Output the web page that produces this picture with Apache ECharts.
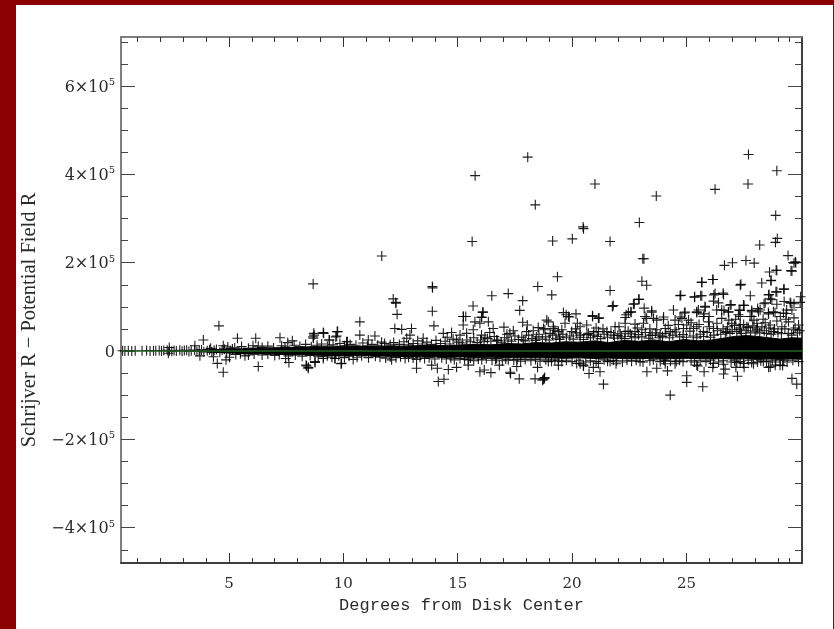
<!DOCTYPE html>
<html><head><meta charset="utf-8">
<style>
html,body{margin:0;padding:0;background:#8b0000;width:834px;height:629px;overflow:hidden}
#paper{position:absolute;left:16px;top:5px;width:817px;height:624px;background:#fff}
#chart{position:absolute;left:0;top:0;width:834px;height:629px}
</style>
<script src="https://cdn.jsdelivr.net/npm/echarts@6/dist/echarts.min.js"></script>
</head><body><div id="paper"></div><div id="chart"></div>
<script>
const xRange = [0.28, 30.05];
const yRange = [-480000, 711000];
const xMajorTicks = [5, 10, 15, 20, 25];
const xMinorTicks = [1,2,3,4,6,7,8,9,11,12,13,14,16,17,18,19,21,22,23,24,26,27,28,29,29.5];
const yMajorTicks = [-400000,-200000,0,200000,400000,600000];
const yMinorTicks = [-450000,-350000,-300000,-250000,-150000,-100000,-50000,50000,100000,150000,250000,300000,350000,450000,500000,550000,650000,700000];
const xTitle = 'Degrees from Disk Center';
const yTitle = 'Schrijver R \u2212 Potential Field R';
const zeroLine = [[0.28,0],[30.05,0]];

// Solid black core of the cloud, read as upper and lower edges at each degree mark
const coreX = [3.6,4.2,5,5.6,6.2,6.9,7.5,8.1,8.8,9.4,10,10.7,11.3,12,12.7,13.4,14,14.6,15.2,15.9,16.5,17.1,17.8,18.4,19.1,19.7,20.3,21,21.6,22.3,22.9,23.6,24.2,24.9,25.5,26.1,26.6,27.1,27.6,28.1,28.6,29.1,29.6,30.05];
const coreUpper = [1000,2500,4500,5000,7000,6500,8500,8000,10000,9000,11000,10500,10000,11500,11000,12500,13000,12000,14000,15000,14000,17000,16000,19000,18000,21000,20000,23000,19000,24000,22000,25000,21000,26000,23000,25000,29000,33000,35000,33000,30000,27000,30000,29000];
const coreLower = [-1000,-2500,-4500,-5500,-6000,-7000,-8000,-8500,-9500,-10000,-10500,-9500,-11500,-11500,-12500,-12000,-13000,-14000,-13500,-14500,-14000,-15000,-15500,-15500,-16000,-16500,-15500,-17000,-16000,-17000,-17500,-16500,-17500,-16500,-17000,-18000,-17000,-18500,-17500,-19000,-18000,-18500,-18000,-18500];

const nearZeroPoints = [[0.35,500],[0.45,300],[0.6,800],[0.75,200],[0.9,600],[1.2,400],[1.4,1000],[1.55,300],[1.7,700],[1.8,500],[1.95,1200],[2.05,200],[2.15,900],[2.3,1500],[2.4,400],[2.5,-800],[2.6,1100],[2.7,300],[2.85,1700],[2.95,-600],[3.05,900],[3.15,1500],[3.25,-1000],[3.35,700],[3.5,2100],[3.6,-1200],[3.7,1300],[3.8,2500],[3.9,-1700],[4.05,800],[4.15,2800],[4.25,-2300],[4.35,1600],[4.45,3500],[4.6,-2600],[4.7,2200],[4.8,4200],[4.9,-3100],[5.05,1400],[5.15,4500]];

const upperPoints = [[18.06,439000],[15.76,397000],[18.39,331000],[15.63,248000],[19.15,249000],[20.01,254000],[11.68,215000],[19.36,168000],[13.89,146000],[13.9,143000],[18.5,146000],[16.49,125000],[17.21,130000],[19.11,127000],[17.84,114000],[12.18,118000],[12.29,110000],[12.35,83000],[13.89,90000],[15.67,102000],[16.11,88000],[17.71,92000],[15.25,78000],[15.35,78000],[16.05,77000],[19.62,87000],[19.74,82000],[20.17,84000],[19.88,77000],
[27.71,445000],[28.95,408000],[21.0,378000],[27.69,378000],[26.25,366000],[23.68,351000],[28.9,307000],[20.48,281000],[20.5,277000],[22.94,291000],[21.66,248000],[28.97,255000],[28.89,246000],[28.2,240000],[29.44,216000],[29.76,202000],[29.7,199000],[27.6,205000],[27.96,199000],[27.01,200000],[26.66,194000],[23.09,209000],[23.14,209000],[28.63,179000],[28.95,183000],[29.57,182000],[28.7,160000],[28.29,154000],[27.38,151000],[26.16,162000],[25.67,156000],[23.05,158000],[23.26,149000],[21.66,137000],[29.25,140000],[28.95,134000],[28.61,128000],[28.67,118000],[27.79,125000],[26.6,131000],[26.2,127000],[26.25,130000],[25.62,125000],[25.36,123000],[24.75,126000],[22.93,117000],[22.72,107000],[21.76,101000],[21.8,103000],[29.99,123000],[23.15,97000],[23.48,91000],[22.58,88000],[22.36,82000],[20.89,80000],[21.18,75000],[24.43,93000],[24.94,88000],[25.52,93000],[25.81,101000],[26.18,113000],[26.4,109000],[26.95,105000],[26.32,93000],[26.64,92000],[26.83,88000],[27.52,103000],[27.34,92000],[27.85,92000],[28.11,96000],[28.39,107000],[28.58,87000],[28.87,87000],[29.38,93000],[29.53,110000],[29.7,107000],[29.24,86000],[25.45,87000],[25.77,84000],[25.99,78000],[24.72,77000],[24.0,77000],[23.19,78000],[27.27,82000],[27.85,78000],
[22.91,117000],[22.68,106000],[23.48,88000],[24.91,86000],[24.72,125000],[25.35,122000],[25.67,125000],[26.62,128000],[27.35,149000],[28.69,159000],[25.67,155000],[26.15,162000],[28.92,183000],[29.61,181000],[29.78,200000],[29.27,140000],[28.91,134000],[28.59,127000],[28.44,109000],[28.73,116000],[28.95,106000],[29.27,112000],[29.56,108000],[29.97,110000],[29.61,93000],[29.36,85000],[29.1,78000],[28.8,89000],[28.59,84000],[28.22,93000],[27.86,89000],[27.49,104000],[27.3,93000],[26.91,104000],[25.82,99000],[25.45,89000],[25.09,70000],[24.8,74000],[24.5,70000],[23.99,72000],[23.56,74000],[23.26,74000],[22.32,76000],[22.46,87000],[22.57,89000],[22.32,63000],[21.88,55000],[22.75,61000],[23.12,63000],[23.7,48000],[21.15,74000],[20.9,78000],[19.84,78000],[18.96,66000],[19.18,55000],[19.69,63000],[20.23,63000],[20.64,59000],[20.35,55000],[19.55,48000],[18.75,51000],[19.98,44000],[20.71,40000],[21.15,44000],[21.52,44000],[22.1,39000],[22.54,39000],[23.05,48000],[24.07,51000],[24.5,48000],[25.01,59000],[25.31,51000],[25.74,78000],[25.96,66000],[26.54,93000],[26.84,89000],[26.54,74000],[26.98,63000],[27.35,78000],[27.78,78000],[28.15,89000],[28.44,64000],[29.46,66000],[29.9,59000],[27.35,59000],[27.64,55000],[28.08,63000],[28.66,59000],[29.17,55000],[26.33,63000],[25.45,55000],[23.7,70000],[23.41,36000],[22.75,44000],[22.32,44000],[21.81,36000],[20.93,36000],[20.35,36000],[19.47,32000],[19.04,40000],[29.68,48000],[28.8,44000],[28.08,48000],[27.35,48000],[26.76,44000],[26.18,51000],[25.74,44000],[24.87,51000],[24.29,44000],[23.85,36000],
[8.68,152000],[12.3,108000],[10.72,66000],[13.96,57000],[12.25,51000],[12.98,51000],[12.55,49000],[8.71,40000],[8.68,32000],[9.12,42000],[9.73,44000],[9.67,32000],[9.38,25000],[10.72,36000],[11.38,34000],[10.14,21000],[11.09,25000],[11.67,20000],[12.91,36000],[12.77,29000],[13.49,29000],[14.37,40000],[14.73,42000],[14.54,31000],[15.24,78000],[16.09,88000],[16.04,76000],[15.75,66000],[15.97,63000],[16.34,66000],[16.55,51000],[17.02,54000],[17.43,46000],[17.84,65000],[18.04,59000],[18.52,53000],[18.89,70000],[19.18,51000],[15.24,59000],[15.39,40000],[15.68,48000],[14.95,25000],[16.04,36000],[16.7,25000],[17.28,40000],[18.01,44000],[18.81,48000],[19.4,44000],[18.45,32000],[17.87,25000],[16.19,31000],
[4.56,57000],[3.88,25000],[3.51,12000],[5.37,29000],[6.17,29000],[7.23,30000],[7.57,19000],[7.77,23000],[8.72,36000],[8.69,29000],[9.14,40000],[9.75,44000],[9.71,34000],[9.39,25000],[10.18,21000],[4.75,12000],[6.28,11000],[2.39,8000]];

// Fringe just above the solid core, estimated from the crowded band
const upperFringe = [[4.2,6000],[4.95,9000],[5.25,7000],[5.55,10000],[5.85,6000],[6.05,12000],[6.45,8000],[6.7,11000],[6.95,7000],[7.3,12000],[7.45,9000],[7.85,13000],[8.1,10000],[8.35,15000],[8.6,9000],[8.85,13000],[9.05,16000],[9.3,11000],[9.55,14000],[9.85,17000],[10.05,12000],[10.3,15000],[10.55,13000],[10.85,18000],[11.05,12000],[11.25,15000],[11.5,13000],[11.8,17000],[12.05,14000],[12.2,19000],[12.45,15000],[12.65,21000],[12.85,14000],[13.05,17000],[13.25,23000],[13.45,16000],[13.65,20000],[13.85,15000],[14.05,24000],[14.25,17000],[14.45,22000],[14.65,16000],[14.8,27000],[15.05,20000],[15.2,18000],[15.4,25000],[15.55,21000],[15.7,30000],[15.85,19000],[16.0,25000],[16.15,21000],[16.3,28000],[16.45,22000],[16.6,33000],[16.75,24000],[16.9,20000],[17.05,30000],[17.2,25000],[17.35,22000],[17.5,34000],[17.65,26000],[17.8,31000],[17.95,23000],[18.1,36000],[18.25,28000],[18.4,24000],[18.55,38000],[18.7,27000],[18.85,32000],[19.0,25000],[19.15,36000],[19.3,29000],[19.45,26000],[19.6,38000],[19.75,30000],[19.9,34000],[20.05,27000],[20.2,41000],[20.35,31000],[20.5,26000],[20.65,37000],[20.8,30000],[20.95,44000],[21.1,33000],[21.25,28000],[21.4,38000],[21.55,31000],[21.7,42000],[21.85,29000],[22.0,35000],[22.15,32000],[22.3,28000],[22.45,45000],[22.6,33000],[22.75,30000],[22.9,37000],[23.05,32000],[23.2,42000],[23.35,29000],[23.5,35000],[23.65,41000],[23.8,30000],[23.95,33000],[24.1,40000],[24.25,30000],[24.4,36000],[24.55,43000],[24.7,32000],[24.85,37000],[25.0,31000],[25.15,45000],[25.3,34000],[25.45,30000],[25.6,38000],[25.75,33000],[25.9,42000],[26.05,31000],[26.2,36000],[26.35,46000],[26.5,38000],[26.6,50000],[26.7,42000],[26.8,55000],[26.9,40000],[27.0,48000],[27.1,58000],[27.2,44000],[27.3,52000],[27.4,40000],[27.5,60000],[27.6,46000],[27.7,53000],[27.8,41000],[27.9,57000],[28.0,45000],[28.1,52000],[28.2,41000],[28.3,55000],[28.4,46000],[28.5,40000],[28.6,52000],[28.7,38000],[28.85,50000],[29.0,42000],[29.15,39000],[29.3,50000],[29.45,40000],[29.6,36000],[29.75,52000],[29.85,41000],[29.95,46000],
[15.1,36000],[16.4,42000],[17.15,38000],[18.3,46000],[19.25,47000],[20.15,50000],[21.05,52000],[21.35,50000],[22.05,55000],[22.85,52000],[23.4,50000],[24.2,58000],[24.65,60000],[25.2,64000],[25.55,60000],[26.0,55000],[26.85,70000],[27.15,72000],[27.95,70000],[28.35,72000],[28.95,68000],[29.35,72000],[29.7,75000]];

const lowerPoints = [[18.8,-60000],[18.75,-64000],[21.37,-75000],[20.74,-51000],[20.93,-37000],[21.22,-47000],[19.4,-32000],[20.35,-29000],[20.5,-34000],[21.15,-28000],[21.66,-24000],[21.92,-29000],[23.27,-47000],[23.7,-39000],[24.07,-29000],[24.17,-45000],[24.5,-29000],[25.01,-56000],[25.01,-71000],[25.71,-81000],[24.29,-100000],[25.49,-34000],[25.77,-47000],[26.15,-37000],[26.62,-52000],[26.69,-41000],[27.23,-57000],[27.16,-37000],[27.52,-37000],[27.93,-29000],[28.59,-37000],[28.88,-32000],[29.2,-33000],[29.61,-62000],[29.82,-75000],[29.1,-20000],
[8.39,-34000],[8.46,-39000],[8.76,-24000],[9.12,-17000],[9.63,-17000],[9.92,-28000],[10.43,-19000],[12.11,-20000],[13.2,-39000],[13.2,-19000],[13.86,-32000],[14.11,-39000],[14.59,-42000],[14.95,-37000],[14.15,-69000],[14.4,-64000],[15.46,-32000],[15.97,-47000],[16.16,-43000],[16.45,-49000],[16.82,-32000],[17.31,-51000],[17.29,-48000],[17.69,-63000],[18.38,-63000],[18.79,-62000],[18.71,-66000],[17.58,-35000],[18.49,-37000],[18.96,-24000],[17.21,-20000],[16.7,-17000],[15.46,-20000],
[4.49,-28000],[4.75,-48000],[4.87,-20000],[5.02,-14000],[4.32,-13000],[6.28,-35000],[7.48,-17000],[7.62,-26000],[8.37,-32000],[8.47,-37000],[8.76,-26000],[9.13,-13000],[9.9,-29000],[9.64,-17000],[5.7,-11000],[3.73,-11000],[2.35,-5000],
[20.2,-28000],[20.49,-32000],[21.95,-22000],[22.97,-24000],[24.06,-22000],[24.55,-24000],[25.45,-32000],[26.18,-28000],[26.62,-30000],[27.49,-28000],[27.85,-26000],[28.36,-24000],[28.66,-36000],[29.09,-32000],[27.2,-26000],[19.4,-22000]];

// Fringe just below the solid core, estimated from the crowded band
const lowerFringe = [[5.3,-8000],[5.5,-6000],[5.85,-9000],[6.1,-7000],[6.45,-9000],[6.7,-7000],[7.0,-10000],[7.2,-8000],[7.6,-11000],[7.9,-9000],[8.2,-12000],[8.55,-10000],[8.9,-13000],[9.3,-11000],[9.5,-14000],[9.8,-11000],[10.05,-15000],[10.25,-12000],[10.6,-14000],[10.8,-11000],[11.1,-15000],[11.4,-12000],[11.6,-14000],[11.85,-16000],[12.05,-13000],[12.3,-15000],[12.5,-13000],[12.7,-17000],[12.85,-14000],[13.05,-16000],[13.35,-14000],[13.55,-17000],[13.75,-15000],[14.0,-18000],[14.3,-15000],[14.5,-18000],[14.7,-16000],[14.85,-20000],[15.1,-17000],[15.3,-19000],[15.55,-16000],[15.7,-22000],[15.9,-18000],[16.05,-20000],[16.25,-17000],[16.5,-21000],[16.65,-18000],[16.95,-22000],[17.1,-18000],[17.45,-21000],[17.6,-19000],[17.75,-23000],[17.95,-19000],[18.2,-22000],[18.4,-19000],[18.6,-23000],[18.85,-20000],[19.1,-23000],[19.25,-20000],[19.55,-24000],[19.75,-21000],[20.0,-24000],[20.3,-21000],[20.6,-25000],[20.8,-22000],[21.05,-24000],[21.4,-20000],[21.55,-23000],[21.8,-21000],[22.2,-25000],[22.4,-21000],[22.6,-23000],[22.8,-21000],[23.1,-25000],[23.4,-22000],[23.55,-20000],[23.85,-24000],[24.0,-20000],[24.3,-23000],[24.7,-21000],[24.85,-24000],[25.2,-22000],[25.35,-25000],[25.6,-21000],[25.85,-24000],[26.05,-21000],[26.4,-25000],[26.6,-22000],[26.95,-25000],[27.1,-22000],[27.35,-24000],[27.7,-21000],[28.1,-25000],[28.25,-22000],[28.5,-24000],[28.75,-21000],[28.9,-25000],[29.25,-22000],[29.4,-25000],[29.65,-21000],[29.9,-24000]];

const plusMark = 'path://M4 0h1v4h4v1h-4v4h-1v-4h-4v-1h4z';
const textColor = '#2b2b2b';
const serif = 'DejaVu Serif';
const pow = v => v === 0 ? '{a|0}' : `{a|${v < 0 ? '\u2212' : ''}${Math.abs(v) / 100000}\u00d710}{s|5}`;
const line = c => ({show:true, onZero:false, lineStyle:{color:c, width:1.5}});
const noLabel = {show:false};

function xAx(position, values, length, isLabel, c) {
  return {type:'value', position, min:xRange[0], max:xRange[1], splitLine:{show:false}, axisLine:line(c),
    axisTick:{show:true, inside:true, length, customValues:values, lineStyle:{color:'#333', width:1}},
    axisLabel:isLabel ? {show:true, customValues:values, margin:14, color:textColor, fontFamily:serif, fontSize:15} : noLabel};
}
function yAx(position, values, length, isLabel, c) {
  return {type:'value', position, min:yRange[0], max:yRange[1], splitLine:{show:false}, axisLine:line(c),
    axisTick:{show:true, inside:true, length, customValues:values, lineStyle:{color:'#444', width:1}},
    axisLabel:isLabel ? {show:true, customValues:values, margin:6, formatter:pow, rich:{
      a:{fontFamily:serif, fontSize:16, color:textColor, padding:[3,0,0,0]},
      s:{fontFamily:serif, fontSize:10, color:textColor, padding:[0,0,7,0]}}} : noLabel};
}
const xAxes = [xAx('bottom',xMajorTicks,10,true,'#333'), xAx('bottom',xMinorTicks,5,false,'#333'), xAx('top',xMajorTicks,10,false,'#777'), xAx('top',xMinorTicks,5,false,'#777')];
xAxes[0].name = xTitle; xAxes[0].nameLocation = 'middle'; xAxes[0].nameGap = 34;
xAxes[0].nameTextStyle = {fontFamily:'Liberation Mono', fontSize:17, color:textColor};
const yAxes = [yAx('left',yMajorTicks,14,true,'#777'), yAx('left',yMinorTicks,7,false,'#777'), yAx('right',yMajorTicks,14,false,'#333'), yAx('right',yMinorTicks,7,false,'#333')];
yAxes[0].name = yTitle; yAxes[0].nameLocation = 'middle'; yAxes[0].nameGap = 80;
yAxes[0].nameTextStyle = {fontFamily:'Liberation Serif', fontSize:20.5, color:textColor, padding:[0,40,0,0]};

const pts = (name, data) => ({name, type:'scatter', data, symbol:plusMark, symbolSize:10, itemStyle:{color:'#000', opacity:0.88}, silent:true, animation:false});
const core = (name, ys) => ({name, type:'line', data:coreX.map((x,i)=>[x,ys[i]]), symbol:'none', lineStyle:{color:'#000', width:1}, areaStyle:{color:'#000', opacity:1, origin:0}, silent:true, animation:false});

const chart = echarts.init(document.getElementById('chart'), null, {renderer:'canvas'});
chart.setOption({
  backgroundColor:'transparent', animation:false,
  grid:{left:121, top:37, width:681, height:526, containLabel:false},
  xAxis:xAxes, yAxis:yAxes,
  series:[
    core('core upper', coreUpper), core('core lower', coreLower),
    pts('near zero', nearZeroPoints), pts('positive', upperPoints), pts('positive fringe', upperFringe),
    pts('negative', lowerPoints), pts('negative fringe', lowerFringe),
    {name:'zero', type:'line', data:zeroLine, symbol:'none', lineStyle:{color:'#3a963a', width:1}, silent:true, animation:false, z:5}
  ]
});
</script></body></html>
